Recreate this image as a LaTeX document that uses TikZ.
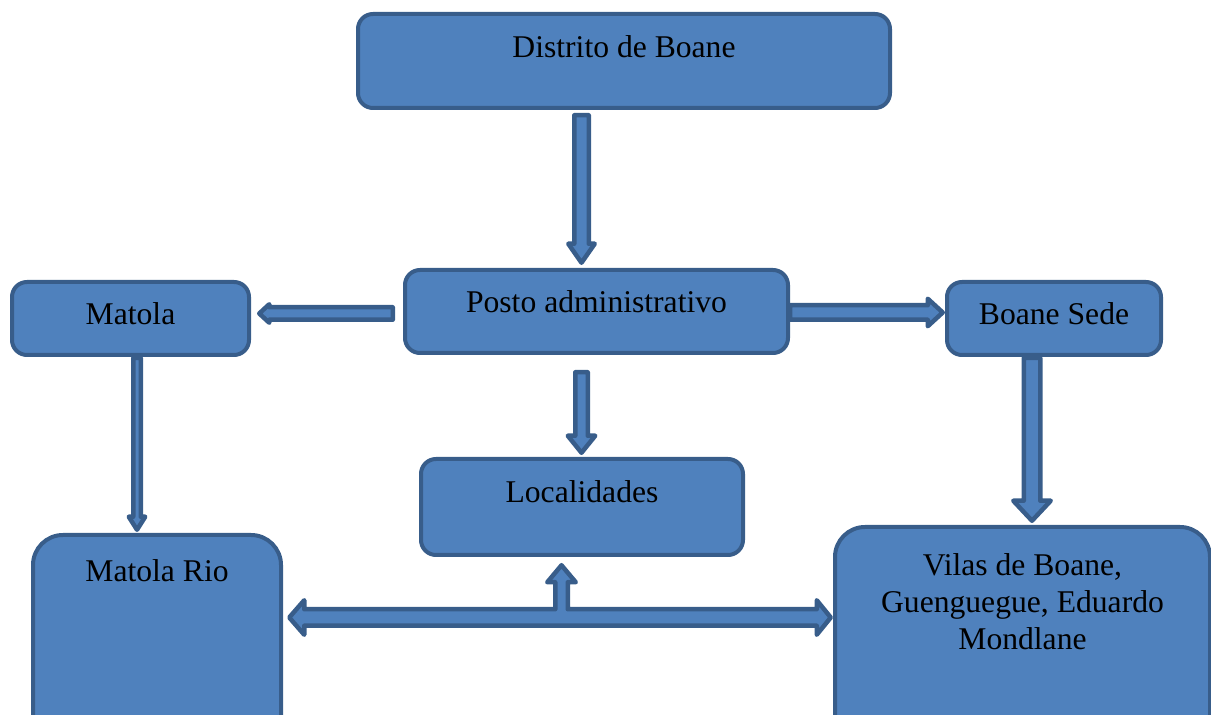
\documentclass[tikz,border=0pt]{standalone}
\usepackage{fontspec}
\setmainfont{Liberation Serif}
\usetikzlibrary{calc}

\def\px{0.02cm}
% seta larga: origem, ponta, meia largura da haste, meia largura da cabeca, comprimento da cabeca (px)
\newcommand{\blockarrow}[5]{%
  \coordinate (hb) at ($(#2)!#5*\px!(#1)$);
  \draw[seta] ($(#1)!#3*\px!90:(#2)$) -- ($(hb)!#3*\px!90:(#2)$) -- ($(hb)!#4*\px!90:(#2)$)
    -- (#2) -- ($(hb)!#4*\px!-90:(#2)$) -- ($(hb)!#3*\px!-90:(#2)$) -- ($(#1)!#3*\px!-90:(#2)$) -- cycle;
}

\begin{document}
\begin{tikzpicture}[x=0.02cm,y=-0.02cm,
	box/.style={draw=bordacor, fill=caixacor, line width=4*\px, rounded corners=0.3cm, inner sep=0pt},
	txt/.style={anchor=base, font=\fontsize{18pt}{21.3pt}\selectfont, align=center, inner sep=0pt},
	seta/.style={draw=bordacor, fill=caixacor, line width=4.5*\px, line join=round}]
		%%% Cores
		\definecolor{caixacor}{RGB}{79,129,189}  % azul
		\definecolor{bordacor}{RGB}{56,93,138}   % azul escuro

		\useasboundingbox (0,0) rectangle (1211,715);
		\clip (0,0) rectangle (1211,715);

		%%% Caixas
		\node[box, minimum width=532*\px, minimum height=94*\px] (distrito) at (624,61) {};
		\node[box, minimum width=383*\px, minimum height=83*\px] (posto) at (596.5,311.5) {};
		\node[box, minimum width=237*\px, minimum height=73*\px] (matola) at (130.5,318.5) {};
		\node[box, minimum width=214*\px, minimum height=73*\px] (sede) at (1054,318.5) {};
		\node[box, minimum width=322*\px, minimum height=96*\px] (local) at (582,507) {};
		\node[box, rounded corners=0.6cm, minimum width=248*\px, minimum height=223*\px] (rio) at (157,646.5) {};
		\node[box, rounded corners=0.6cm, minimum width=375*\px, minimum height=231*\px] (vilas) at (1022.5,642.5) {};

		%%% Textos
		\node[txt] (distrito-t) at ($(distrito.north)+(0,46)$) {Distrito de Boane};
		\node[txt] (posto-t) at ($(posto.north)+(0,45)$) {Posto administrativo};
		\node[txt] (matola-t) at ($(matola.north)+(0,45)$) {Matola};
		\node[txt] (sede-t) at ($(sede.north)+(0,45)$) {Boane Sede};
		\node[txt] (local-t) at ($(local.north)+(0,46)$) {Localidades};
		\node[txt] (rio-t) at ($(rio.north)+(0,49)$) {Matola Rio};
		% a base do texto de tres linhas e a da ultima linha
		\node[txt] (vilas-t) at ($(vilas.north)+(0,125)$) {Vilas de Boane,\\Guenguegue, Eduardo\\Mondlane};

		%%% Setas
		\coordinate (d-s) at ($(distrito.south)+(-42.5,5.25)$);
		\coordinate (p-n) at ($(posto.north)+(-15,-5.25)$);
		\blockarrow{d-s}{p-n}{7.25}{13.25}{19}

		\coordinate (p-w) at ($(posto.west)+(-10.25,2)$);
		\coordinate (m-e) at ($(matola.east)+(8.25,-5)$);
		\blockarrow{p-w}{m-e}{6.25}{9.25}{10}

		\coordinate (p-e) at ($(posto.east)+(0,1)$);
		\coordinate (s-w) at ($(sede.west)+(-2.25,-6)$);
		\blockarrow{p-e}{s-w}{7.25}{13.75}{15}

		\coordinate (p-s) at ($(posto.south)+(-15,17.25)$);
		\coordinate (l-n) at ($(local.north)+(-0.5,-4.25)$);
		\blockarrow{p-s}{l-n}{6.25}{13.75}{17}

		\coordinate (s-s) at ($(sede.south)+(-22,1)$);
		\coordinate (v-n) at ($(vilas.north)+(9.5,-4.25)$);
		\blockarrow{s-s}{v-n}{8.25}{18.75}{20}

		\coordinate (m-s) at ($(matola.south)+(6.5,1)$);
		\coordinate (r-n) at ($(rio.north)+(-20,-3.25)$);
		\blockarrow{m-s}{r-n}{3.75}{8.25}{13}

		%%% Seta em T entre as localidades
		\coordinate (tl) at ($(rio.north east)+(6.25,84.5)$);
		\coordinate (tr) at ($(vilas.north west)+(-2.25,92.5)$);
		\coordinate (tm) at ($(local.south)+(-20.5,8.25)$);
		\draw[seta] (tl) -- ($(tl)+(15,-17.25)$) -- ($(tl)+(15,-8.25)$) -- ($(tm)+(-6.25,44)$) -- ($(tm)+(-6.25,17)$)
			-- ($(tm)+(-14.25,17)$) -- (tm) -- ($(tm)+(14.25,17)$) -- ($(tm)+(6.25,17)$) -- ($(tm)+(6.25,44)$)
			-- ($(tr)+(-14,-8.25)$) -- ($(tr)+(-14,-17.25)$) -- (tr) -- ($(tr)+(-14,17.25)$) -- ($(tr)+(-14,8.25)$)
			-- ($(tl)+(15,8.25)$) -- ($(tl)+(15,17.25)$) -- cycle;
	\end{tikzpicture}
\end{document}
